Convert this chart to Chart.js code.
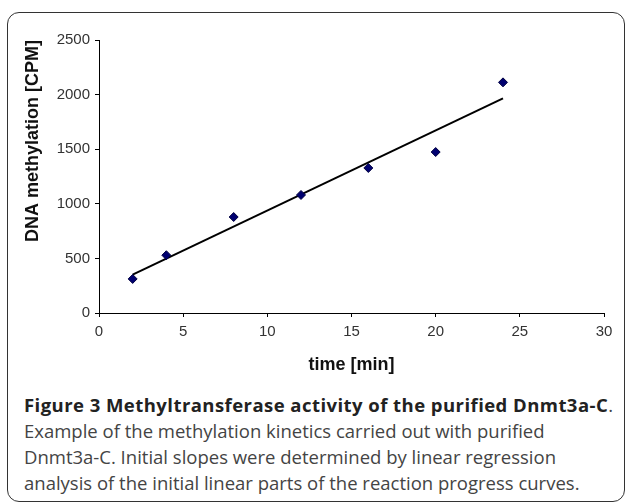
<!DOCTYPE html>
<html>
<head>
<meta charset="utf-8">
<script src="https://cdn.jsdelivr.net/npm/chart.js@4/dist/chart.umd.min.js"></script>
<style>
  body { margin: 0; background: #fff; width: 627px; height: 502px; overflow: hidden; position: relative; }
  #moldura {
    position: absolute; left: 7px; top: 12px; width: 618px; height: 490px;
    border: 1.5px solid #333; border-radius: 12px; box-sizing: border-box;
  }
  #grafico { position: absolute; left: 0; top: 0; }
  #legenda {
    position: absolute; left: 24px; top: 392px; width: 600px;
    font-family: "Open Sans", sans-serif; font-size: 18.5px; line-height: 26px; color: #444;
    white-space: nowrap;
  }
  #legenda b { color: #222; letter-spacing: 0.45px; }
</style>
</head>
<body>
<div id="moldura"></div>
<canvas id="grafico" width="627" height="385"></canvas>
<div id="legenda">
  <b>Figure 3 Methyltransferase activity of the purified Dnmt3a-C</b>.<br>
  Example of the methylation kinetics carried out with purified<br>
  Dnmt3a-C. Initial slopes were determined by linear regression<br>
  analysis of the initial linear parts of the reaction progress curves.
</div>
<script>
// tempo (min) e metilação (CPM)
const tempos = [2, 4, 8, 12, 16, 20, 24];
const metilacao = [312, 529, 879, 1081, 1328, 1474, 2112];

// reta de regressão (extremos)
const retaX = [2, 24];
const retaY = [352, 1965];

const ticksX = [0, 5, 10, 15, 20, 25, 30];
const ticksY = [0, 500, 1000, 1500, 2000, 2500];

const fonteEixo = { family: "'Liberation Sans', Arial, sans-serif", size: 15 };
const fonteTitulo = { family: "'Liberation Sans', Arial, sans-serif", size: 18, weight: "bold" };

new Chart(document.getElementById("grafico").getContext("2d"), {
  type: "scatter",
  data: {
    datasets: [
      {
        label: "DNA methylation",
        data: tempos.map((t, i) => ({ x: t, y: metilacao[i] })),
        pointStyle: "rectRot",
        pointRadius: 4.5,
        backgroundColor: "#000070",
        borderColor: "#000040",
        borderWidth: 1,
      },
      {
        type: "line",
        label: "regressão",
        data: retaX.map((t, i) => ({ x: t, y: retaY[i] })),
        borderColor: "#000",
        borderWidth: 2,
        pointRadius: 0,
        fill: false,
      },
    ],
  },
  options: {
    responsive: false,
    animation: false,
    layout: { padding: { left: 0, right: 23, top: 40, bottom: 0 } },
    plugins: {
      legend: { display: false },
      tooltip: { enabled: false },
    },
    scales: {
      x: {
        type: "linear",
        min: ticksX[0],
        max: ticksX[ticksX.length - 1],
        afterBuildTicks: (scale) => {
          scale.ticks = ticksX.map((v) => ({ value: v }));
        },
        afterFit: (scale) => {
          scale.height = 72;
        },
        grid: { drawOnChartArea: false, drawTicks: true, tickLength: 4, color: "#000" },
        border: { display: true, color: "#000", width: 1 },
        ticks: { font: fonteEixo, color: "#333", padding: 6, maxRotation: 0, callback: (v) => String(v) },
        title: {
          display: true,
          text: "time [min]",
          font: fonteTitulo,
          color: "#111",
          padding: { top: 0, bottom: 9 },
        },
      },
      y: {
        min: ticksY[0],
        max: ticksY[ticksY.length - 1],
        afterBuildTicks: (scale) => {
          scale.ticks = ticksY.map((v) => ({ value: v }));
        },
        afterFit: (scale) => {
          scale.width = 99;
        },
        grid: { drawOnChartArea: false, drawTicks: true, tickLength: 4, color: "#000" },
        border: { display: true, color: "#000", width: 1 },
        ticks: { font: fonteEixo, color: "#333", padding: 5, callback: (v) => String(v) },
        title: {
          display: true,
          text: "DNA methylation [CPM]",
          font: fonteTitulo,
          color: "#111",
          align: "end",
          padding: { top: 22, bottom: 0 },
        },
      },
    },
  },
});
</script>
</body>
</html>
